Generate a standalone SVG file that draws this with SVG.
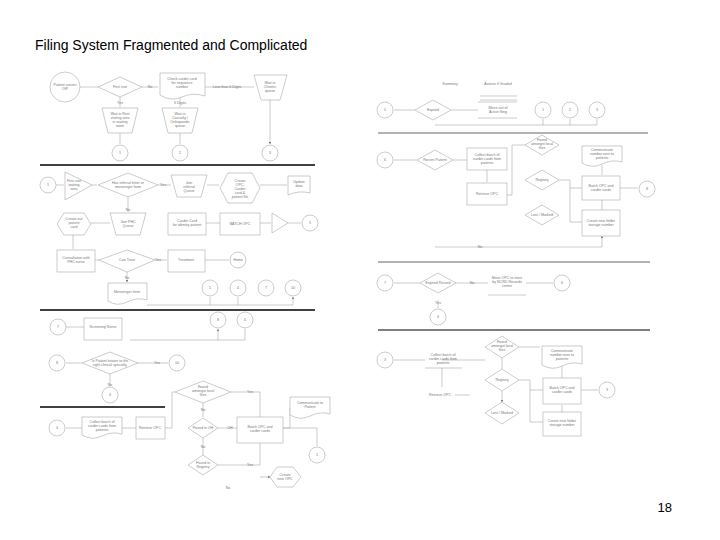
<svg xmlns="http://www.w3.org/2000/svg" width="720" height="540" viewBox="0 0 720 540">
<style>
.s{fill:#fff;stroke:#aaa;stroke-width:0.6}
.t{font-family:"Liberation Sans",Arial,sans-serif;font-size:3.6px;fill:#777;text-anchor:middle}
.c{fill:none;stroke:#aaa;stroke-width:0.6}
.k{stroke:#000;stroke-width:1.6}
.g{stroke:#999;stroke-width:1.6}
</style>
<defs><marker id="a" markerWidth="4" markerHeight="4" refX="3.5" refY="2" orient="auto"><path d="M0,0L4,2L0,4z" fill="#777"/></marker></defs>
<rect width="720" height="540" fill="#fff"/>
<text x="35" y="50" style="font-family:'Liberation Sans',Arial,sans-serif;font-size:14px;fill:#000">Filing System Fragmented and Complicated</text>
<text x="672" y="512" style="font-family:'Liberation Sans',Arial,sans-serif;font-size:13px;fill:#000;text-anchor:end">18</text>

<g id="connectors" marker-end="url(#a)">
<path class="c" d="M80,87H98M142,87H158M205,87H254M120,97V107M180,97V107M120,133V144M180,133V144M270,100V144"/>
<path class="c" d="M56,185H64M92,185H97M158,185H171M207,185H219M260,185H287M128,197V212M110,223H91M73,235V249M220,223H206M260,223H271M288,223H301M95,260H99M155,260H167M205,260H229M127,272V282"/>
<path class="c" d="M147,305H293M210,305V297M238,305V297M293,305V297"/>
<path class="c" d="M66,327H84M130,340H245V329M218,340V329"/>
<path class="c" d="M66,363H82M138,363H168M110,373V386M66,428H82M122,428H136M165,428H172V392H175M203,402V417M218,428H237M231,392H260V417M203,438V455M218,465H260V443M283,428H290V408M283,428H317V446M260,477H270"/>
<path class="c" d="M394,110H415M451,110H478M435,125H597V119M543,125V119M570,125V119M394,160H417M453,160H467M487,170V182M505,195H512V145H525M542,205V213M542,170V172M559,180H570V188H582M570,188V222H582M602,200V210M602,175V165M620,188H638M435,247H602V236"/>
<path class="c" d="M394,283H420M456,283H488M526,283H553M438,300V308M394,360H425M442,368V387M442,360H485M519,347H540M519,380H530V390H543M530,390V422H543M562,405V412M562,378V365M581,390H598M502,358V369M502,391V402"/>
</g>
<line class="k" x1="40" y1="165" x2="315" y2="165"/>
<line class="k" x1="40" y1="310" x2="315" y2="310"/>
<line class="k" x1="40" y1="407" x2="165" y2="407"/>
<line class="g" x1="378" y1="133" x2="648" y2="133"/>
<line class="g" x1="378" y1="262" x2="650" y2="262"/>
<line class="k" x1="378" y1="330" x2="650" y2="330" style="stroke-width:1.2"/>
<text class="t" x="150" y="88">No</text><text class="t" x="227" y="88">Less than 6 Digits</text><text class="t" x="120" y="104">Yes</text><text class="t" x="180" y="104">6 Digits</text>
<text class="t" x="163" y="186">Yes</text><text class="t" x="128" y="211">No</text><text class="t" x="158" y="261">Yes</text><text class="t" x="127" y="279">No</text>
<text class="t" x="157" y="364">Yes</text><text class="t" x="110" y="386">No</text><text class="t" x="250" y="393">Yes</text><text class="t" x="203" y="411">No</text><text class="t" x="230" y="429">OH</text><text class="t" x="203" y="448">No</text><text class="t" x="250" y="466">Yes</text><text class="t" x="228" y="489">No</text>
<text class="t" x="480" y="248">No</text><text class="t" x="472" y="284">No</text><text class="t" x="438" y="304">Yes</text>

<g id="n1"><circle class="s" cx="65" cy="87" r="15"/><text class="t" x="65" y="86">Patient arrives</text><text class="t" x="65" y="90">OIP</text></g>
<g id="n2"><path class="s" d="M98,87L120,77L142,87L120,97z"/><text class="t" x="120" y="88">First visit</text></g>
<g id="n3"><path class="s" d="M160,73H205V96Q193,92 182,97T160,95z"/><text class="t" x="182" y="80">Check carder card</text><text class="t" x="182" y="84">for sequence</text><text class="t" x="182" y="88">number</text></g>
<g id="n4"><path class="s" d="M254,75H287L280,100H261z"/><text class="t" x="270" y="84">Wait in</text><text class="t" x="270" y="88">Chronic</text><text class="t" x="270" y="92">queue</text></g>
<g id="n5"><path class="s" d="M102,108H138L132,133H108z"/><text class="t" x="120" y="115">Wait in Rest</text><text class="t" x="120" y="119">visiting area</text><text class="t" x="120" y="123">in waiting</text><text class="t" x="120" y="127">room</text></g>
<g id="n6"><path class="s" d="M162,108H198L192,133H168z"/><text class="t" x="180" y="115">Wait in</text><text class="t" x="180" y="119">Casualty /</text><text class="t" x="180" y="123">Orthopaedic</text><text class="t" x="180" y="127">queue</text></g>
<g id="n7"><circle class="s" cx="120" cy="153" r="8"/><text class="t" x="120" y="154">1</text></g>
<g id="n8"><circle class="s" cx="180" cy="153" r="8"/><text class="t" x="180" y="154">2</text></g>
<g id="n9"><circle class="s" cx="270" cy="153" r="8"/><text class="t" x="270" y="154">3</text></g>

<g id="n10"><circle class="s" cx="48" cy="185" r="8"/><text class="t" x="48" y="186">1</text></g>
<g id="n11"><path class="s" d="M65,172L92,185L65,200z"/><text class="t" x="74" y="182">First visit</text><text class="t" x="74" y="186">waiting</text><text class="t" x="74" y="190">area</text></g>
<g id="n12"><path class="s" d="M98,185L128,173L158,185L128,197z"/><text class="t" x="128" y="184">Has referral letter or</text><text class="t" x="128" y="188">messenger form</text></g>
<g id="n13"><path class="s" d="M171,175H207L201,197H177z"/><text class="t" x="189" y="184">Join</text><text class="t" x="189" y="188">referral</text><text class="t" x="189" y="192">Queue</text></g>
<g id="n14"><path class="s" d="M228,173H252L260,188L252,203H228L220,188z"/><text class="t" x="240" y="182">Create</text><text class="t" x="240" y="186">OPC,</text><text class="t" x="240" y="190">Carder</text><text class="t" x="240" y="194">card &amp;</text><text class="t" x="240" y="198">patient file</text></g>
<g id="n15"><path class="s" d="M288,176H310V193Q299,190 288,195z"/><text class="t" x="299" y="183">Update</text><text class="t" x="299" y="187">data</text></g>
<g id="n16"><path class="s" d="M110,213H146L140,235H116z"/><text class="t" x="128" y="223">Join PHC</text><text class="t" x="128" y="227">Queue</text></g>
<g id="n17"><path class="s" d="M64,213H84L91,224L84,235H64L57,224z"/><text class="t" x="74" y="220">Create out</text><text class="t" x="74" y="224">patient</text><text class="t" x="74" y="228">card</text></g>
<g id="n18"><rect class="s" x="168" y="213" width="38" height="22"/><text class="t" x="187" y="222">Carder Card</text><text class="t" x="187" y="226">for identity patient</text></g>
<g id="n19"><rect class="s" x="220" y="213" width="40" height="22"/><text class="t" x="240" y="225">BATCH OPC</text></g>
<g id="n20"><path class="s" d="M272,213L288,223L272,233z"/></g>
<g id="n21"><circle class="s" cx="310" cy="223" r="8"/><text class="t" x="310" y="224">5</text></g>
<g id="n22"><rect class="s" x="57" y="250" width="38" height="22"/><text class="t" x="76" y="259">Consultation with</text><text class="t" x="76" y="263">PHC nurse</text></g>
<g id="n23"><path class="s" d="M99,260L127,250L155,260L127,272z"/><text class="t" x="127" y="261">Can Treat</text></g>
<g id="n24"><rect class="s" x="168" y="250" width="37" height="22"/><text class="t" x="186" y="261">Treatment</text></g>
<g id="n25"><circle class="s" cx="238" cy="260" r="8"/><text class="t" x="238" y="261">Home</text></g>
<g id="n26"><path class="s" d="M108,283H147V300Q137,297 127,302T108,301z"/><text class="t" x="127" y="293">Messenger form</text></g>
<g id="n27"><circle class="s" cx="210" cy="288" r="8"/><text class="t" x="210" y="289">5</text></g>
<g id="n28"><circle class="s" cx="238" cy="288" r="8"/><text class="t" x="238" y="289">4</text></g>
<g id="n29"><circle class="s" cx="266" cy="288" r="8"/><text class="t" x="266" y="289">7</text></g>
<g id="n30"><circle class="s" cx="293" cy="288" r="8"/><text class="t" x="293" y="289">10</text></g>

<g id="n31"><circle class="s" cx="58" cy="327" r="8"/><text class="t" x="58" y="328">7</text></g>
<g id="n32"><rect class="s" x="84" y="318" width="38" height="22"/><text class="t" x="103" y="328">Screening Nurse</text></g>
<g id="n33"><circle class="s" cx="218" cy="320" r="8"/><text class="t" x="218" y="321">8</text></g>
<g id="n34"><circle class="s" cx="245" cy="320" r="8"/><text class="t" x="245" y="321">6</text></g>
<g id="n35"><circle class="s" cx="57" cy="363" r="8"/><text class="t" x="57" y="364">8</text></g>
<g id="n36"><path class="s" d="M82,363L110,352L138,363L110,374z"/><text class="t" x="110" y="362">Is Patient known to the</text><text class="t" x="110" y="366">right clinical specialty</text></g>
<g id="n37"><circle class="s" cx="177" cy="363" r="8"/><text class="t" x="177" y="364">10</text></g>
<g id="n38"><circle class="s" cx="110" cy="395" r="8"/><text class="t" x="110" y="396">4</text></g>
<g id="n39"><circle class="s" cx="57" cy="428" r="8"/><text class="t" x="57" y="429">4</text></g>
<g id="n40"><path class="s" d="M82,417H122V434Q112,431 102,436T82,435z"/><text class="t" x="102" y="423">Collect batch of</text><text class="t" x="102" y="427">carder cards from</text><text class="t" x="102" y="431">patients</text></g>
<g id="n41"><rect class="s" x="136" y="417" width="29" height="22"/><text class="t" x="150" y="429">Retrieve OPC</text></g>
<g id="n42"><path class="s" d="M175,392L203,381L231,392L203,403z"/><text class="t" x="203" y="388">Found</text><text class="t" x="203" y="392">amongst local</text><text class="t" x="203" y="396">files</text></g>
<g id="n43"><path class="s" d="M188,428L203,418L218,428L203,438z"/><text class="t" x="203" y="429">Found in OH</text></g>
<g id="n44"><rect class="s" x="237" y="417" width="46" height="26"/><text class="t" x="260" y="428">Batch OPC and</text><text class="t" x="260" y="432">carder cards</text></g>
<g id="n45"><path class="s" d="M290,397H330V414Q320,411 310,416T290,415z"/><text class="t" x="310" y="404">Communicate to</text><text class="t" x="310" y="408">Patient</text></g>
<g id="n46"><circle class="s" cx="317" cy="455" r="8"/><text class="t" x="317" y="456">1</text></g>
<g id="n47"><path class="s" d="M188,465L203,455L218,465L203,475z"/><text class="t" x="203" y="464">Found in</text><text class="t" x="203" y="468">Registry</text></g>
<g id="n48"><path class="s" d="M277,467H293L301,477L293,487H277L270,477z"/><text class="t" x="285" y="476">Create</text><text class="t" x="285" y="480">new OPC</text></g>

<text class="t" x="450" y="85">Summary</text><text class="t" x="498" y="85">Assess if Graded</text>
<line class="c" x1="480" y1="96" x2="517" y2="96"/><line class="c" x1="480" y1="100" x2="517" y2="100"/>
<g id="n49"><circle class="s" cx="385" cy="110" r="8"/><text class="t" x="385" y="111">5</text></g>
<g id="n50"><path class="s" d="M415,110L433,100L451,110L433,120z"/><text class="t" x="433" y="111">Expired</text></g>
<g id="n51"><path class="c" d="M478,102H517M478,118H517"/><text class="t" x="498" y="109">Move out of</text><text class="t" x="498" y="113">Active filing</text></g>
<g id="n52"><circle class="s" cx="543" cy="110" r="8"/><text class="t" x="543" y="111">1</text></g>
<g id="n53"><circle class="s" cx="570" cy="110" r="8"/><text class="t" x="570" y="111">2</text></g>
<g id="n54"><circle class="s" cx="597" cy="110" r="8"/><text class="t" x="597" y="111">3</text></g>
<g id="n55"><circle class="s" cx="385" cy="160" r="8"/><text class="t" x="385" y="161">6</text></g>
<g id="n56"><path class="s" d="M417,160L435,150L453,160L435,170z"/><text class="t" x="435" y="161">Recent Patient</text></g>
<g id="n57"><rect class="s" x="467" y="148" width="40" height="22"/><text class="t" x="487" y="156">Collect batch of</text><text class="t" x="487" y="160">carder cards from</text><text class="t" x="487" y="164">patients</text></g>
<g id="n58"><rect class="s" x="467" y="183" width="40" height="22"/><text class="t" x="487" y="195">Retrieve OPC</text></g>
<g id="n59"><path class="s" d="M525,145L542,135L559,145L542,155z"/><text class="t" x="542" y="141">Found</text><text class="t" x="542" y="145">amongst local</text><text class="t" x="542" y="149">files</text></g>
<g id="n60"><path class="s" d="M525,180L542,170L559,180L542,190z"/><text class="t" x="542" y="181">Registry</text></g>
<g id="n61"><path class="s" d="M525,215L542,205L559,215L542,225z"/><text class="t" x="542" y="216">Lost / Marked</text></g>
<g id="n62"><path class="s" d="M582,146H622V162Q612,159 602,164T582,163z"/><text class="t" x="602" y="151">Communicate</text><text class="t" x="602" y="155">number over to</text><text class="t" x="602" y="159">patients</text></g>
<g id="n63"><rect class="s" x="582" y="176" width="38" height="24"/><text class="t" x="601" y="187">Batch OPC and</text><text class="t" x="601" y="191">carder cards</text></g>
<g id="n64"><circle class="s" cx="647" cy="189" r="8"/><text class="t" x="647" y="190">8</text></g>
<g id="n65"><rect class="s" x="582" y="210" width="38" height="26"/><text class="t" x="601" y="222">Create new folder</text><text class="t" x="601" y="226">storage number</text></g>

<g id="n66"><circle class="s" cx="385" cy="283" r="8"/><text class="t" x="385" y="284">7</text></g>
<g id="n67"><path class="s" d="M420,283L438,273L456,283L438,293z"/><text class="t" x="438" y="284">Expired Record</text></g>
<g id="n68"><path class="c" d="M488,295H526"/><text class="t" x="507" y="279">Move OPC to store</text><text class="t" x="507" y="283">by NCRD Records</text><text class="t" x="507" y="287">centre</text></g>
<g id="n69"><circle class="s" cx="562" cy="283" r="8"/><text class="t" x="562" y="284">6</text></g>
<g id="n70"><circle class="s" cx="438" cy="317" r="8"/><text class="t" x="438" y="318">4</text></g>
<g id="n71"><circle class="s" cx="385" cy="360" r="8"/><text class="t" x="385" y="361">3</text></g>
<g id="n72"><path class="c" d="M425,368H462"/><text class="t" x="443" y="356">Collect batch of</text><text class="t" x="443" y="360">carder cards from</text><text class="t" x="443" y="364">patients</text></g>
<g id="n73"><text class="t" x="440" y="396">Retrieve OPC</text><path class="c" d="M455,395H470"/></g>
<g id="n74"><path class="s" d="M485,347L502,336L519,347L502,358z"/><text class="t" x="502" y="343">Found</text><text class="t" x="502" y="347">amongst local</text><text class="t" x="502" y="351">files</text></g>
<g id="n75"><path class="s" d="M485,380L502,369L519,380L502,391z"/><text class="t" x="502" y="381">Registry</text></g>
<g id="n76"><path class="s" d="M485,413L502,402L519,413L502,424z"/><text class="t" x="502" y="414">Lost / Marked</text></g>
<g id="n77"><path class="s" d="M542,346H582V364Q572,361 562,366T542,365z"/><text class="t" x="562" y="352">Communicate</text><text class="t" x="562" y="356">number over to</text><text class="t" x="562" y="360">patients</text></g>
<g id="n78"><rect class="s" x="543" y="378" width="38" height="26"/><text class="t" x="562" y="389">Batch OPC and</text><text class="t" x="562" y="393">carder cards</text></g>
<g id="n79"><circle class="s" cx="607" cy="390" r="8"/><text class="t" x="607" y="391">3</text></g>
<g id="n80"><rect class="s" x="543" y="412" width="38" height="24"/><text class="t" x="562" y="422">Create new folder</text><text class="t" x="562" y="426">storage number</text></g>
</svg>
